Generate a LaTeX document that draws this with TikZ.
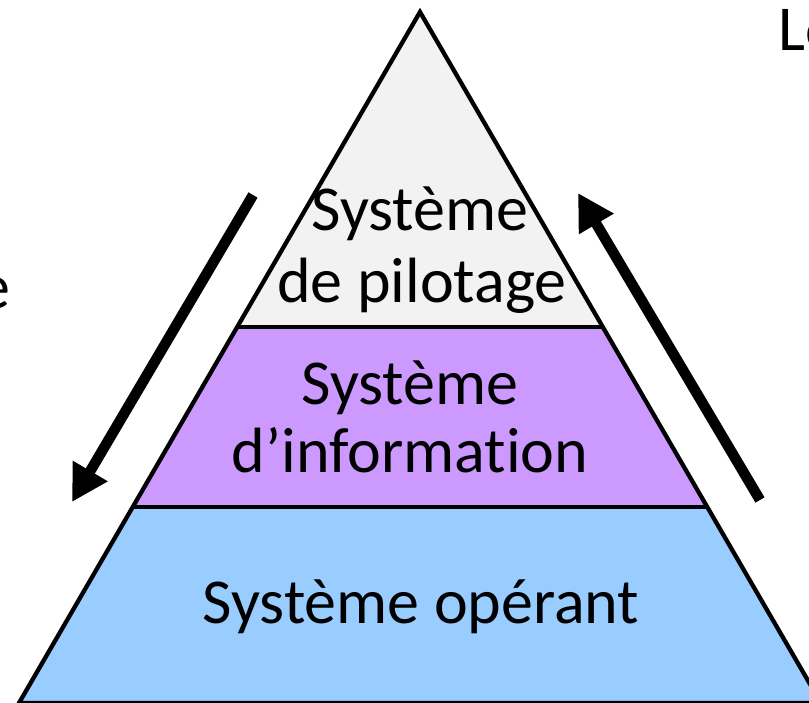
\documentclass[tikz,border=0pt]{standalone}
\usepackage{fontspec}
\setmainfont{Carlito}[Ligatures=CommonOff]
\usetikzlibrary{arrows.meta}
\definecolor{pilot}{HTML}{F2F2F2}
\definecolor{info}{HTML}{CC99FF}
\definecolor{oper}{HTML}{99CCFF}
\tikzset{
  layer/.style={draw=black, line width=4.3pt, line join=miter},
  lbl/.style={font=\fontsize{64}{72}\selectfont, align=center, inner sep=0pt},
  flow/.style={line width=10.5pt, -{Triangle[length=36pt,width=38pt]}},
}
\begin{document}
\begin{tikzpicture}[x=1pt,y=-1pt]
\useasboundingbox (0,0) rectangle (809,702);
\clip (0,0) rectangle (809,702);
% layers
\coordinate (apex) at (420,12);
\coordinate (l1) at (237,327); \coordinate (r1) at (603,327);
\coordinate (l2) at (133,507); \coordinate (r2) at (707,507);
\coordinate (l3) at (19,703);  \coordinate (r3) at (821,703);
\fill[oper] (l2) -- (r2) -- (r3) -- (l3) -- cycle;
\fill[info] (l1) -- (r1) -- (r2) -- (l2) -- cycle;
\fill[pilot] (apex) -- (r1) -- (l1) -- cycle;
\draw[layer] (l1) -- (r1);
\draw[layer] (l2) -- (r2);
\draw[layer] (apex) -- (l3) -- (r3) -- cycle;
% labels
\node[lbl, anchor=base] (p1) at (420,230) {Système};
\node[lbl, anchor=base] (p2) at (422,302) {de pilotage};
\node[lbl, anchor=base] (i1) at (410,404) {Système};
\node[lbl, anchor=base] (i2) at (410,472) {d’information};
\node[lbl, anchor=base] (o1) at (421,623) {Système opérant};
% partial texts at edges
\node[lbl, anchor=base west] (lo) at (778,50) {Lo};
\node[lbl, anchor=base east] (ee) at (11,308) {e};
% arrows
\coordinate (dS) at (253,195); \coordinate (dE) at (72,502);
\coordinate (uS) at (760,500); \coordinate (uE) at (578,193);
\draw[flow] (dS) -- (dE);
\draw[flow] (uS) -- (uE);
\end{tikzpicture}
\end{document}
